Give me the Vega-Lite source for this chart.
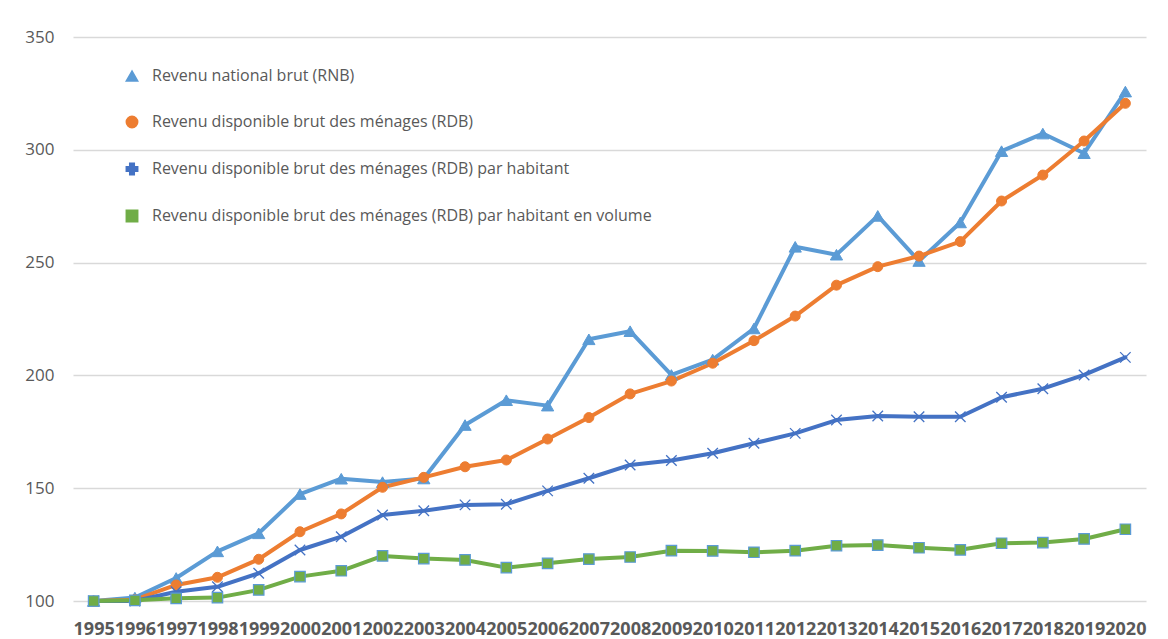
{
  "$schema": "https://vega.github.io/schema/vega-lite/v6.json",
  "width": 1073,
  "height": 564,
  "autosize": {"type": "none"},
  "padding": {"left": 73, "top": 37, "right": 22, "bottom": 38},
  "background": "white",
  "config": {"view": {"stroke": null}, "font": "Open Sans"},
  "datasets": {
    "d": [
      {"year": "1995", "series": "Revenu national brut (RNB)", "value": 100},
      {"year": "1996", "series": "Revenu national brut (RNB)", "value": 101.5},
      {"year": "1997", "series": "Revenu national brut (RNB)", "value": 110.2},
      {"year": "1998", "series": "Revenu national brut (RNB)", "value": 122.0},
      {"year": "1999", "series": "Revenu national brut (RNB)", "value": 130.0},
      {"year": "2000", "series": "Revenu national brut (RNB)", "value": 147.4},
      {"year": "2001", "series": "Revenu national brut (RNB)", "value": 154.2},
      {"year": "2002", "series": "Revenu national brut (RNB)", "value": 152.7},
      {"year": "2003", "series": "Revenu national brut (RNB)", "value": 154.3},
      {"year": "2004", "series": "Revenu national brut (RNB)", "value": 178.0},
      {"year": "2005", "series": "Revenu national brut (RNB)", "value": 189.0},
      {"year": "2006", "series": "Revenu national brut (RNB)", "value": 186.6},
      {"year": "2007", "series": "Revenu national brut (RNB)", "value": 216.0},
      {"year": "2008", "series": "Revenu national brut (RNB)", "value": 219.6},
      {"year": "2009", "series": "Revenu national brut (RNB)", "value": 200.2},
      {"year": "2010", "series": "Revenu national brut (RNB)", "value": 207.0},
      {"year": "2011", "series": "Revenu national brut (RNB)", "value": 220.8},
      {"year": "2012", "series": "Revenu national brut (RNB)", "value": 257.0},
      {"year": "2013", "series": "Revenu national brut (RNB)", "value": 253.5},
      {"year": "2014", "series": "Revenu national brut (RNB)", "value": 270.7},
      {"year": "2015", "series": "Revenu national brut (RNB)", "value": 250.7},
      {"year": "2016", "series": "Revenu national brut (RNB)", "value": 267.8},
      {"year": "2017", "series": "Revenu national brut (RNB)", "value": 299.4},
      {"year": "2018", "series": "Revenu national brut (RNB)", "value": 307.2},
      {"year": "2019", "series": "Revenu national brut (RNB)", "value": 298.5},
      {"year": "2020", "series": "Revenu national brut (RNB)", "value": 325.8},
      {"year": "1995", "series": "Revenu disponible brut des ménages (RDB)", "value": 100},
      {"year": "1996", "series": "Revenu disponible brut des ménages (RDB)", "value": 100.6},
      {"year": "1997", "series": "Revenu disponible brut des ménages (RDB)", "value": 107.1},
      {"year": "1998", "series": "Revenu disponible brut des ménages (RDB)", "value": 110.5},
      {"year": "1999", "series": "Revenu disponible brut des ménages (RDB)", "value": 118.5},
      {"year": "2000", "series": "Revenu disponible brut des ménages (RDB)", "value": 130.7},
      {"year": "2001", "series": "Revenu disponible brut des ménages (RDB)", "value": 138.6},
      {"year": "2002", "series": "Revenu disponible brut des ménages (RDB)", "value": 150.4},
      {"year": "2003", "series": "Revenu disponible brut des ménages (RDB)", "value": 154.8},
      {"year": "2004", "series": "Revenu disponible brut des ménages (RDB)", "value": 159.5},
      {"year": "2005", "series": "Revenu disponible brut des ménages (RDB)", "value": 162.5},
      {"year": "2006", "series": "Revenu disponible brut des ménages (RDB)", "value": 171.8},
      {"year": "2007", "series": "Revenu disponible brut des ménages (RDB)", "value": 181.3},
      {"year": "2008", "series": "Revenu disponible brut des ménages (RDB)", "value": 191.8},
      {"year": "2009", "series": "Revenu disponible brut des ménages (RDB)", "value": 197.5},
      {"year": "2010", "series": "Revenu disponible brut des ménages (RDB)", "value": 205.4},
      {"year": "2011", "series": "Revenu disponible brut des ménages (RDB)", "value": 215.4},
      {"year": "2012", "series": "Revenu disponible brut des ménages (RDB)", "value": 226.3},
      {"year": "2013", "series": "Revenu disponible brut des ménages (RDB)", "value": 240.0},
      {"year": "2014", "series": "Revenu disponible brut des ménages (RDB)", "value": 248.2},
      {"year": "2015", "series": "Revenu disponible brut des ménages (RDB)", "value": 252.9},
      {"year": "2016", "series": "Revenu disponible brut des ménages (RDB)", "value": 259.3},
      {"year": "2017", "series": "Revenu disponible brut des ménages (RDB)", "value": 277.3},
      {"year": "2018", "series": "Revenu disponible brut des ménages (RDB)", "value": 288.8},
      {"year": "2019", "series": "Revenu disponible brut des ménages (RDB)", "value": 303.9},
      {"year": "2020", "series": "Revenu disponible brut des ménages (RDB)", "value": 320.6},
      {"year": "1995", "series": "Revenu disponible brut des ménages (RDB) par habitant", "value": 100},
      {"year": "1996", "series": "Revenu disponible brut des ménages (RDB) par habitant", "value": 100.0},
      {"year": "1997", "series": "Revenu disponible brut des ménages (RDB) par habitant", "value": 104.1},
      {"year": "1998", "series": "Revenu disponible brut des ménages (RDB) par habitant", "value": 106.3},
      {"year": "1999", "series": "Revenu disponible brut des ménages (RDB) par habitant", "value": 112.3},
      {"year": "2000", "series": "Revenu disponible brut des ménages (RDB) par habitant", "value": 122.6},
      {"year": "2001", "series": "Revenu disponible brut des ménages (RDB) par habitant", "value": 128.5},
      {"year": "2002", "series": "Revenu disponible brut des ménages (RDB) par habitant", "value": 138.1},
      {"year": "2003", "series": "Revenu disponible brut des ménages (RDB) par habitant", "value": 140.0},
      {"year": "2004", "series": "Revenu disponible brut des ménages (RDB) par habitant", "value": 142.6},
      {"year": "2005", "series": "Revenu disponible brut des ménages (RDB) par habitant", "value": 142.9},
      {"year": "2006", "series": "Revenu disponible brut des ménages (RDB) par habitant", "value": 148.8},
      {"year": "2007", "series": "Revenu disponible brut des ménages (RDB) par habitant", "value": 154.4},
      {"year": "2008", "series": "Revenu disponible brut des ménages (RDB) par habitant", "value": 160.3},
      {"year": "2009", "series": "Revenu disponible brut des ménages (RDB) par habitant", "value": 162.3},
      {"year": "2010", "series": "Revenu disponible brut des ménages (RDB) par habitant", "value": 165.5},
      {"year": "2011", "series": "Revenu disponible brut des ménages (RDB) par habitant", "value": 169.9},
      {"year": "2012", "series": "Revenu disponible brut des ménages (RDB) par habitant", "value": 174.3},
      {"year": "2013", "series": "Revenu disponible brut des ménages (RDB) par habitant", "value": 180.2},
      {"year": "2014", "series": "Revenu disponible brut des ménages (RDB) par habitant", "value": 182.0},
      {"year": "2015", "series": "Revenu disponible brut des ménages (RDB) par habitant", "value": 181.7},
      {"year": "2016", "series": "Revenu disponible brut des ménages (RDB) par habitant", "value": 181.7},
      {"year": "2017", "series": "Revenu disponible brut des ménages (RDB) par habitant", "value": 190.3},
      {"year": "2018", "series": "Revenu disponible brut des ménages (RDB) par habitant", "value": 194.1},
      {"year": "2019", "series": "Revenu disponible brut des ménages (RDB) par habitant", "value": 200.2},
      {"year": "2020", "series": "Revenu disponible brut des ménages (RDB) par habitant", "value": 208.0},
      {"year": "1995", "series": "Revenu disponible brut des ménages (RDB) par habitant en volume", "value": 100},
      {"year": "1996", "series": "Revenu disponible brut des ménages (RDB) par habitant en volume", "value": 100.3},
      {"year": "1997", "series": "Revenu disponible brut des ménages (RDB) par habitant en volume", "value": 101.2},
      {"year": "1998", "series": "Revenu disponible brut des ménages (RDB) par habitant en volume", "value": 101.5},
      {"year": "1999", "series": "Revenu disponible brut des ménages (RDB) par habitant en volume", "value": 104.9},
      {"year": "2000", "series": "Revenu disponible brut des ménages (RDB) par habitant en volume", "value": 110.8},
      {"year": "2001", "series": "Revenu disponible brut des ménages (RDB) par habitant en volume", "value": 113.4},
      {"year": "2002", "series": "Revenu disponible brut des ménages (RDB) par habitant en volume", "value": 120.0},
      {"year": "2003", "series": "Revenu disponible brut des ménages (RDB) par habitant en volume", "value": 118.8},
      {"year": "2004", "series": "Revenu disponible brut des ménages (RDB) par habitant en volume", "value": 118.2},
      {"year": "2005", "series": "Revenu disponible brut des ménages (RDB) par habitant en volume", "value": 114.8},
      {"year": "2006", "series": "Revenu disponible brut des ménages (RDB) par habitant en volume", "value": 116.7},
      {"year": "2007", "series": "Revenu disponible brut des ménages (RDB) par habitant en volume", "value": 118.6},
      {"year": "2008", "series": "Revenu disponible brut des ménages (RDB) par habitant en volume", "value": 119.5},
      {"year": "2009", "series": "Revenu disponible brut des ménages (RDB) par habitant en volume", "value": 122.3},
      {"year": "2010", "series": "Revenu disponible brut des ménages (RDB) par habitant en volume", "value": 122.2},
      {"year": "2011", "series": "Revenu disponible brut des ménages (RDB) par habitant en volume", "value": 121.6},
      {"year": "2012", "series": "Revenu disponible brut des ménages (RDB) par habitant en volume", "value": 122.3},
      {"year": "2013", "series": "Revenu disponible brut des ménages (RDB) par habitant en volume", "value": 124.5},
      {"year": "2014", "series": "Revenu disponible brut des ménages (RDB) par habitant en volume", "value": 124.8},
      {"year": "2015", "series": "Revenu disponible brut des ménages (RDB) par habitant en volume", "value": 123.6},
      {"year": "2016", "series": "Revenu disponible brut des ménages (RDB) par habitant en volume", "value": 122.7},
      {"year": "2017", "series": "Revenu disponible brut des ménages (RDB) par habitant en volume", "value": 125.6},
      {"year": "2018", "series": "Revenu disponible brut des ménages (RDB) par habitant en volume", "value": 125.9},
      {"year": "2019", "series": "Revenu disponible brut des ménages (RDB) par habitant en volume", "value": 127.5},
      {"year": "2020", "series": "Revenu disponible brut des ménages (RDB) par habitant en volume", "value": 131.8}
    ]
  },
  "data": {"name": "d"},
  "encoding": {
    "x": {
      "field": "year",
      "type": "ordinal",
      "scale": {"type": "point", "padding": 0.5},
      "axis": {
        "title": null,
        "labelAngle": 0,
        "labelFont": "Open Sans",
        "labelFontSize": 18,
        "labelFontWeight": "bold",
        "labelColor": "#595959",
        "labelOverlap": false,
        "labelPadding": 19,
        "domain": false,
        "ticks": false,
        "grid": false
      }
    },
    "y": {
      "field": "value",
      "type": "quantitative",
      "scale": {"domain": [100, 350], "nice": false, "zero": false},
      "axis": {
        "title": null,
        "values": [100, 150, 200, 250, 300, 350],
        "labelFont": "Open Sans",
        "labelFontSize": 17,
        "labelColor": "#595959",
        "labelPadding": 19,
        "domain": false,
        "ticks": false,
        "grid": true,
        "gridColor": "#D9D9D9",
        "gridWidth": 1.3
      }
    }
  },
  "layer": [
    {
      "mark": {"type": "point", "filled": true, "size": 1},
      "encoding": {
        "color": {
          "field": "series",
          "type": "nominal",
          "scale": {
            "domain": ["Revenu national brut (RNB)", "Revenu disponible brut des ménages (RDB)", "Revenu disponible brut des ménages (RDB) par habitant", "Revenu disponible brut des ménages (RDB) par habitant en volume"],
            "range": ["#5B9BD5", "#ED7D31", "#4472C4", "#70AD47"]
          },
          "legend": {
            "title": null,
            "orient": "none",
            "legendX": 51,
            "legendY": 31,
            "symbolSize": 130,
            "symbolOpacity": 1,
            "labelFont": "Open Sans",
            "labelFontSize": 16,
            "labelColor": "#595959",
            "labelLimit": 900,
            "labelOffset": 12,
            "rowPadding": 29
          }
        },
        "shape": {
          "field": "series",
          "type": "nominal",
          "scale": {
            "domain": ["Revenu national brut (RNB)", "Revenu disponible brut des ménages (RDB)", "Revenu disponible brut des ménages (RDB) par habitant", "Revenu disponible brut des ménages (RDB) par habitant en volume"],
            "range": ["triangle-up", "circle", "cross", "square"]
          },
          "legend": {
            "title": null,
            "orient": "none",
            "legendX": 51,
            "legendY": 31,
            "symbolSize": 130,
            "symbolOpacity": 1,
            "labelFont": "Open Sans",
            "labelFontSize": 16,
            "labelColor": "#595959",
            "labelLimit": 900,
            "labelOffset": 12,
            "rowPadding": 29
          }
        }
      }
    },
    {
      "mark": {"type": "line", "strokeWidth": 4, "strokeJoin": "round", "strokeCap": "round"},
      "encoding": {
        "stroke": {
          "field": "series",
          "type": "nominal",
          "scale": {
            "domain": ["Revenu national brut (RNB)", "Revenu disponible brut des ménages (RDB)", "Revenu disponible brut des ménages (RDB) par habitant", "Revenu disponible brut des ménages (RDB) par habitant en volume"],
            "range": ["#5B9BD5", "#ED7D31", "#4472C4", "#70AD47"]
          },
          "legend": null
        }
      }
    },
    {
      "transform": [{"filter": {"field": "series", "equal": "Revenu national brut (RNB)"}}],
      "mark": {"type": "point", "shape": "triangle-up", "filled": true, "fill": "#5B9BD5", "stroke": "#5B9BD5", "strokeWidth": 1, "size": 150, "opacity": 1}
    },
    {
      "transform": [{"filter": {"field": "series", "equal": "Revenu disponible brut des ménages (RDB)"}}],
      "mark": {"type": "point", "shape": "circle", "filled": true, "fill": "#ED7D31", "stroke": "#ED7D31", "strokeWidth": 1, "size": 100, "opacity": 1}
    },
    {
      "transform": [{"filter": {"field": "series", "equal": "Revenu disponible brut des ménages (RDB) par habitant"}}],
      "mark": {"type": "point", "shape": "M-1,-1L1,1M-1,1L1,-1", "filled": false, "stroke": "#4472C4", "strokeWidth": 1.3, "size": 110, "opacity": 1}
    },
    {
      "transform": [{"filter": {"field": "series", "equal": "Revenu disponible brut des ménages (RDB) par habitant en volume"}}],
      "mark": {"type": "point", "shape": "square", "filled": true, "fill": "#70AD47", "stroke": "#5B9BD5", "strokeWidth": 1.2, "size": 110, "opacity": 1}
    }
  ]
}
